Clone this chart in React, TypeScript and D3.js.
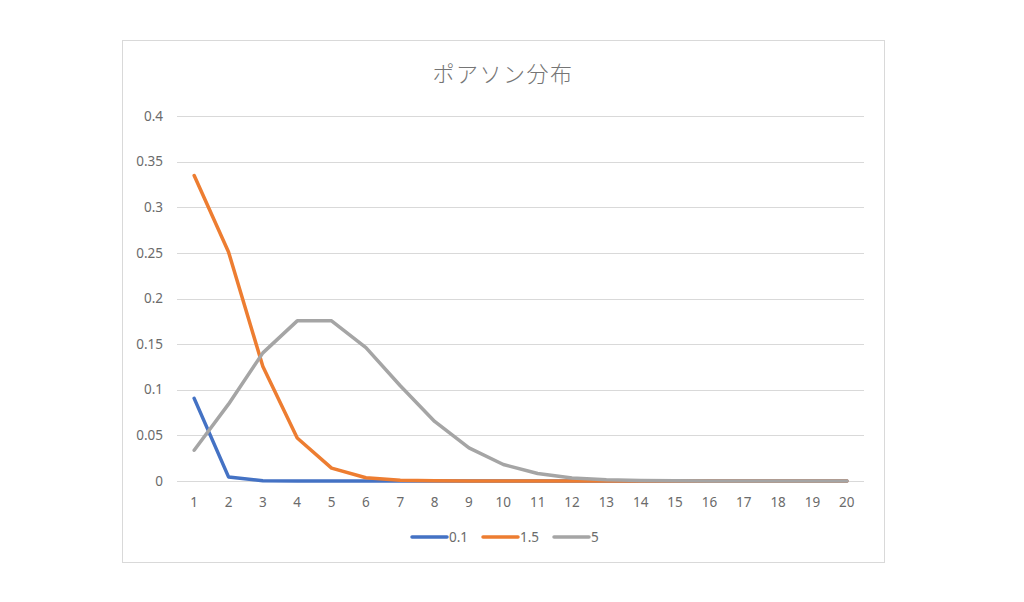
import { useEffect, useRef } from 'react'
import * as d3 from 'd3'

const categories = Array.from({ length: 20 }, (_, i) => String(i + 1))
const seriesNames = ['0.1', '1.5', '5']
const lambda01 = [0.0905, 0.0045, 0.00015, 0.000004, 0, 0, 0, 0, 0, 0, 0, 0, 0, 0, 0, 0, 0, 0, 0, 0]
const lambda15 = [0.3347, 0.251, 0.1255, 0.0471, 0.0141, 0.0035, 0.00076, 0.00014, 0.00002, 0.000004, 0, 0, 0, 0, 0, 0, 0, 0, 0, 0]
const lambda5 = [0.0337, 0.0842, 0.1404, 0.1755, 0.1755, 0.1462, 0.1044, 0.0653, 0.0363, 0.0181, 0.0082, 0.0034, 0.0013, 0.00047, 0.00016, 0.00005, 0.000015, 0.000004, 0.000001, 0]
const yTicks = [0, 0.05, 0.1, 0.15, 0.2, 0.25, 0.3, 0.35, 0.4]

const colors = ['#4472C4', '#ED7D31', '#A5A5A5']
const textColor = '#6b6b6b'
const font = '"Noto Sans", "Noto Sans CJK JP", sans-serif'

export default function App() {
  const svgRef = useRef<SVGSVGElement>(null)

  useEffect(() => {
    if (!svgRef.current) return
    const svg = d3.select(svgRef.current)
    svg.selectAll('*').remove()

    const width = 1024
    const height = 602

    svg.append('rect').attr('width', width).attr('height', height).attr('fill', '#fff')

    // chart border
    svg.append('rect')
      .attr('x', 122.5).attr('y', 40.5)
      .attr('width', 762).attr('height', 522)
      .attr('fill', '#fff').attr('stroke', '#d9d9d9').attr('stroke-width', 1)

    const plot = { left: 177, right: 864, top: 116, bottom: 481 }

    const x = d3.scaleBand().domain(categories).range([plot.left, plot.right])
    const xc = (c: string) => (x(c) || 0) + x.bandwidth() / 2
    const y = d3.scaleLinear().domain([0, 0.4]).range([plot.bottom, plot.top])

    // title
    svg.append('text')
      .attr('x', 503).attr('y', 82)
      .attr('text-anchor', 'middle')
      .attr('font-family', '"Noto Sans CJK JP", sans-serif')
      .attr('font-weight', 300)
      .attr('font-size', 22)
      .attr('letter-spacing', 1.5)
      .attr('fill', '#757575')
      .text('ポアソン分布')

    // grid + y labels
    yTicks.forEach(t => {
      svg.append('line')
        .attr('x1', plot.left).attr('x2', plot.right)
        .attr('y1', Math.round(y(t)) + 0.5).attr('y2', Math.round(y(t)) + 0.5)
        .attr('stroke', '#d9d9d9').attr('stroke-width', 1.2)
      svg.append('text')
        .attr('x', 163).attr('y', y(t))
        .attr('dy', '0.35em')
        .attr('text-anchor', 'end')
        .attr('font-family', font)
        .attr('font-size', 13.5)
        .attr('fill', textColor)
        .text(String(t))
    })

    // x labels
    categories.forEach(c => {
      svg.append('text')
        .attr('x', xc(c)).attr('y', 502)
        .attr('dy', '0.35em')
        .attr('text-anchor', 'middle')
        .attr('font-family', font)
        .attr('font-size', 13.5)
        .attr('fill', textColor)
        .text(c)
    })

    const line = d3.line<number>()
      .x((_, i) => xc(categories[i]))
      .y(d => y(d))

    const allSeries = [lambda01, lambda15, lambda5]
    allSeries.forEach((s, i) => {
      svg.append('path')
        .datum(s)
        .attr('d', line)
        .attr('fill', 'none')
        .attr('stroke', colors[i])
        .attr('stroke-width', 3.5)
        .attr('stroke-linejoin', 'round')
        .attr('stroke-linecap', 'round')
    })

    // legend
    const legendX = [412, 483, 554]
    seriesNames.forEach((name, i) => {
      const lx = legendX[i]
      svg.append('line')
        .attr('x1', lx).attr('x2', lx + 35)
        .attr('y1', 537).attr('y2', 537)
        .attr('stroke', colors[i]).attr('stroke-width', 3.5)
        .attr('stroke-linecap', 'round')
      svg.append('text')
        .attr('x', lx + 37).attr('y', 537)
        .attr('dy', '0.35em')
        .attr('font-family', font)
        .attr('font-size', 13.5)
        .attr('fill', textColor)
        .text(name)
    })
  }, [])

  return (
    <svg
      ref={svgRef}
      width={1024}
      height={602}
      style={{ position: 'absolute', left: 0, top: 0, display: 'block' }}
    />
  )
}
